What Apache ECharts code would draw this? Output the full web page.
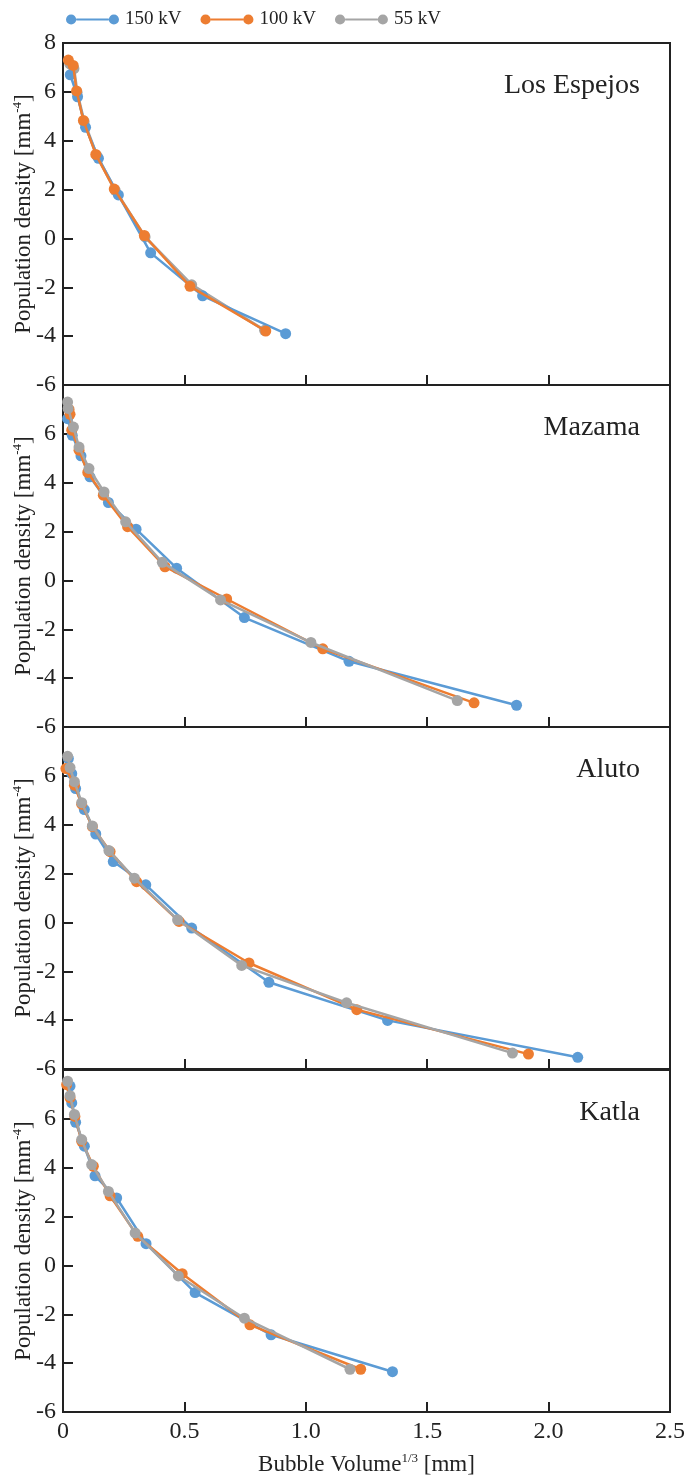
<!DOCTYPE html>
<html>
<head>
<meta charset="utf-8">
<script src="https://cdn.jsdelivr.net/npm/echarts@6/dist/echarts.min.js"></script>
<style>
  html, body { margin: 0; padding: 0; background: #ffffff; }
  #chart { width: 685px; height: 1479px; }
</style>
</head>
<body>
<div id="chart"></div>
<script>
// Population density vs. cube root of bubble volume, four volcanic samples,
// three accelerating voltages each. Points are [Bubble Volume^(1/3) mm, density].
const panelNames = ['Los Espejos', 'Mazama', 'Aluto', 'Katla'];
const seriesNames = ['150 kV', '100 kV', '55 kV'];
const seriesColors = ['#5B9BD5', '#ED7D31', '#A5A5A5'];

const losEspejos150 = [[0.03, 6.7], [0.06, 5.8], [0.093, 4.55], [0.146, 3.28], [0.228, 1.78], [0.361, -0.59], [0.575, -2.35], [0.917, -3.9]];
const losEspejos100 = [[0.022, 7.3], [0.042, 7.08], [0.056, 6.04], [0.084, 4.83], [0.135, 3.44], [0.211, 2.02], [0.335, 0.12], [0.523, -1.96], [0.835, -3.79]];
const losEspejos55 = [[0.028, 7.15], [0.045, 6.95], [0.058, 5.98], [0.087, 4.78], [0.14, 3.38], [0.215, 1.97], [0.338, 0.06], [0.53, -1.9], [0.83, -3.76]];

const mazama150 = [[0.019, 6.62], [0.038, 5.94], [0.074, 5.1], [0.111, 4.24], [0.187, 3.19], [0.301, 2.1], [0.468, 0.5], [0.747, -1.52], [1.178, -3.31], [1.868, -5.11]];
const mazama100 = [[0.025, 7.0], [0.029, 6.8], [0.036, 6.15], [0.066, 5.33], [0.102, 4.42], [0.166, 3.49], [0.266, 2.2], [0.42, 0.56], [0.674, -0.76], [1.07, -2.8], [1.693, -5.01]];
const mazama55 = [[0.019, 7.3], [0.021, 7.04], [0.043, 6.28], [0.066, 5.46], [0.107, 4.58], [0.169, 3.62], [0.258, 2.4], [0.409, 0.74], [0.649, -0.8], [1.021, -2.54], [1.624, -4.92]];

const aluto150 = [[0.022, 6.71], [0.036, 6.09], [0.052, 5.48], [0.088, 4.62], [0.135, 3.62], [0.207, 2.49], [0.341, 1.54], [0.53, -0.23], [0.848, -2.45], [1.337, -4.01], [2.12, -5.52]];
const aluto100 = [[0.012, 6.3], [0.047, 5.62], [0.077, 4.84], [0.121, 3.92], [0.194, 2.9], [0.303, 1.67], [0.478, 0.04], [0.766, -1.66], [1.21, -3.57], [1.917, -5.39]];
const aluto55 = [[0.019, 6.8], [0.029, 6.34], [0.047, 5.76], [0.077, 4.9], [0.121, 3.95], [0.189, 2.94], [0.294, 1.81], [0.472, 0.11], [0.736, -1.76], [1.168, -3.29], [1.851, -5.35]];

const katla150 = [[0.029, 7.34], [0.036, 6.65], [0.052, 5.86], [0.088, 4.88], [0.132, 3.67], [0.221, 2.76], [0.342, 0.89], [0.544, -1.11], [0.857, -2.84], [1.357, -4.35]];
const katla100 = [[0.015, 7.4], [0.029, 6.86], [0.049, 6.1], [0.077, 5.08], [0.125, 4.06], [0.194, 2.85], [0.308, 1.19], [0.491, -0.34], [0.77, -2.43], [1.226, -4.25]];
const katla55 = [[0.019, 7.54], [0.029, 6.95], [0.047, 6.18], [0.077, 5.15], [0.118, 4.13], [0.187, 3.03], [0.297, 1.33], [0.475, -0.43], [0.747, -2.16], [1.182, -4.25]];

const panelData = [
  [losEspejos150, losEspejos100, losEspejos55],
  [mazama150, mazama100, mazama55],
  [aluto150, aluto100, aluto55],
  [katla150, katla100, katla55]
];

const xMin = 0, xMax = 2.5, xStep = 0.5;
const yMin = -6, yMax = 8, yStep = 2;

const FONT = '"Liberation Serif", "Times New Roman", serif';
const INK = '#222222';
const gridTops = [43, 385, 727, 1070];
const gridHeight = 342;

const grids = [], xAxes = [], yAxes = [], series = [], titles = [];

panelNames.forEach((name, i) => {
  const last = i === panelNames.length - 1;
  grids.push({
    left: 63, right: 15, top: gridTops[i], height: gridHeight,
    outerBoundsMode: 'none', containLabel: false,
    show: true, borderColor: INK, borderWidth: 2, backgroundColor: 'transparent'
  });
  xAxes.push({
    type: 'value', gridIndex: i, min: xMin, max: xMax, interval: xStep,
    axisLine: { show: true, onZero: false, lineStyle: { color: INK, width: 2 } },
    axisTick: { show: true, inside: true, length: 10, lineStyle: { color: INK, width: 2 } },
    splitLine: { show: false },
    axisLabel: {
      show: last, margin: 8, color: INK, fontFamily: FONT, fontSize: 24,
      formatter: v => (v === 0 ? '0' : v.toFixed(1))
    },
    name: last ? 'Bubble Volume{sup|1/3} [mm]' : '',
    nameLocation: 'middle', nameGap: 40, nameMoveOverlap: false,
    nameTextStyle: {
      color: INK, fontFamily: FONT, fontSize: 23, lineHeight: 26,
      rich: { sup: { fontFamily: FONT, fontSize: 13, lineHeight: 14, verticalAlign: 'top', color: INK } }
    }
  });
  yAxes.push({
    type: 'value', gridIndex: i, min: yMin, max: yMax, interval: yStep,
    axisLine: { show: true, onZero: false, lineStyle: { color: INK, width: 2 } },
    axisTick: { show: true, inside: true, length: 10, lineStyle: { color: INK, width: 2 } },
    splitLine: { show: false },
    axisLabel: {
      margin: 7, color: INK, fontFamily: FONT, fontSize: 24,
      showMaxLabel: i === 0
    },
    name: 'Population density [mm{sup|-4}]',
    nameLocation: 'middle', nameGap: 26, nameRotate: 90, nameMoveOverlap: false,
    nameTextStyle: {
      color: INK, fontFamily: FONT, fontSize: 23, lineHeight: 26,
      rich: { sup: { fontFamily: FONT, fontSize: 13, lineHeight: 14, verticalAlign: 'top', color: INK } }
    }
  });
  titles.push({
    text: name, right: 40, top: gridTops[i] + 24,
    textStyle: { color: INK, fontFamily: FONT, fontSize: 28, fontWeight: 'normal' }
  });
  panelData[i].forEach((pts, s) => {
    series.push({
      name: seriesNames[s], type: 'line',
      xAxisIndex: i, yAxisIndex: i,
      data: pts,
      symbol: 'circle', symbolSize: 11,
      // in the first panel the 55 kV marks sit beneath the 100 kV marks
      z: (i === 0 && s === 2) ? 1 : 2 + s,
      lineStyle: { color: seriesColors[s], width: (i === 0 && s === 2) ? 3 : 2.5 },
      itemStyle: { color: seriesColors[s] },
      emphasis: { disabled: true },
      animation: false
    });
  });
});

// legend mark: two dots joined by a line
const legendIcon = 'path://M0,5 A5,5 0 1,0 10,5 A5,5 0 1,0 0,5 Z M10,4 L42,4 L42,6 L10,6 Z M42,5 A5,5 0 1,0 52,5 A5,5 0 1,0 42,5 Z';

const chart = echarts.init(document.getElementById('chart'), null, { renderer: 'canvas' });
chart.setOption({
  backgroundColor: '#ffffff',
  animation: false,
  title: titles,
  legend: {
    data: seriesNames.map(n => ({ name: n, icon: legendIcon })),
    left: 61, top: 5,
    itemWidth: 53, itemHeight: 12, itemGap: 19,
    textStyle: { color: INK, fontFamily: FONT, fontSize: 19, padding: [0, 0, 0, 1] },
    selectedMode: false
  },
  grid: grids,
  xAxis: xAxes,
  yAxis: yAxes,
  series: series
});
</script>
</body>
</html>
